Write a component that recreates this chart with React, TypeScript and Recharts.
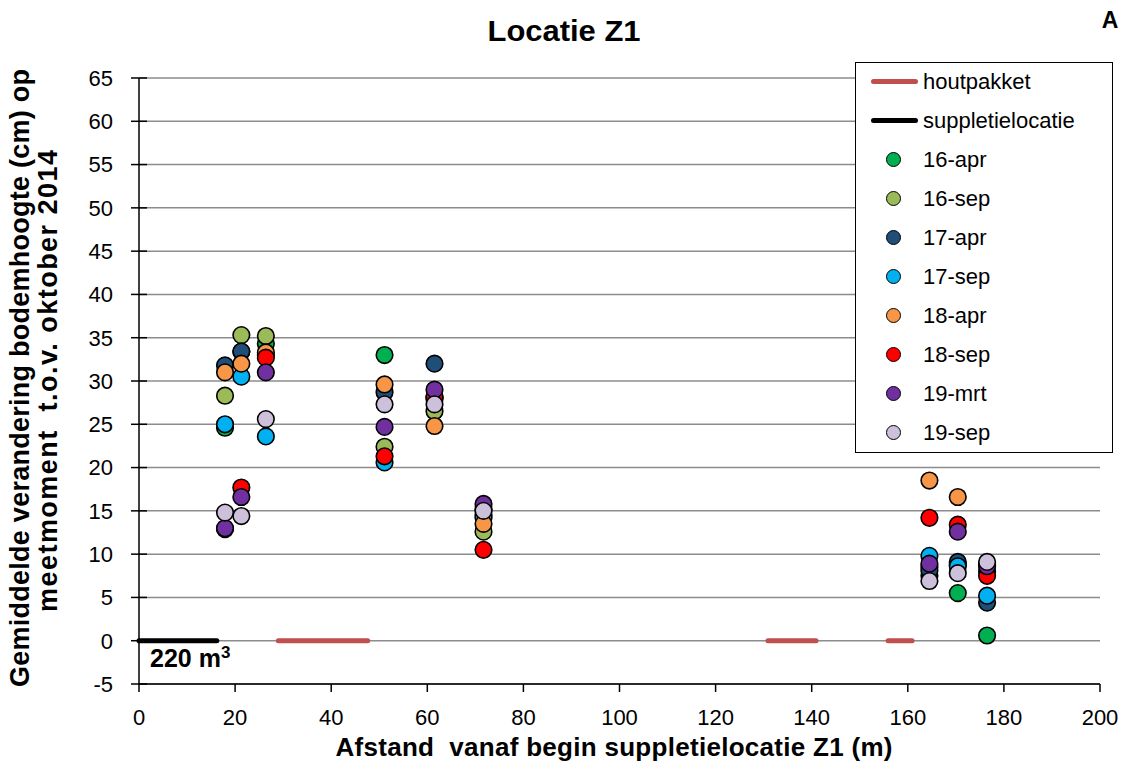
import React from 'react';
import { ScatterChart, Scatter, XAxis, YAxis, CartesianGrid, ReferenceLine, Legend } from 'recharts';

const distances = [17.9, 21.3, 26.4, 51.1, 61.5, 71.7, 164.5, 170.4, 176.5];

const seriesNames = ['16-apr', '16-sep', '17-apr', '17-sep', '18-apr', '18-sep', '19-mrt', '19-sep'];
const seriesColors = ['#00B050', '#9BBB59', '#1F4E79', '#00B0F0', '#F79646', '#FF0000', '#7030A0', '#CCC0DA'];

const v16apr = [24.6, 33.4, 34.3, 33.0, 28.1, 14.5, 8.5, 5.5, 0.6];
const v16sep = [28.3, 35.3, 35.2, 22.4, 26.5, 12.6, 7.5, 8.8, 8.8];
const v17apr = [31.8, 33.4, 33.0, 28.7, 32.0, 15.2, 8.1, 9.1, 4.4];
const v17sep = [25.0, 30.5, 23.6, 20.6, 27.9, 14.2, 9.8, 8.6, 5.2];
const v18apr = [31.0, 32.0, 33.3, 29.6, 24.8, 13.5, 18.5, 16.6, 8.0];
const v18sep = [12.9, 17.7, 32.7, 21.3, 28.2, 10.5, 14.2, 13.4, 7.5];
const v19mrt = [13.0, 16.6, 31.0, 24.7, 29.0, 15.8, 8.9, 12.6, 8.6];
const v19sep = [14.8, 14.4, 25.6, 27.3, 27.3, 15.0, 6.9, 7.8, 9.1];

const seriesValues = [v16apr, v16sep, v17apr, v17sep, v18apr, v18sep, v19mrt, v19sep];

// houtpakket segments (start, end) along y = 0
const houtpakketStart = [29.0, 130.9, 155.9];
const houtpakketEnd = [47.6, 140.9, 160.9];
// suppletielocatie segment
const suppletieStart = 0;
const suppletieEnd = 16.2;

const xTicks = [0, 20, 40, 60, 80, 100, 120, 140, 160, 180, 200];
const yTicks = [-5, 0, 5, 10, 15, 20, 25, 30, 35, 40, 45, 50, 55, 60, 65];

const FONT = '"Liberation Sans", Arial, sans-serif';
const HOUT = '#C0504D';

const YTick = (props: any) => {
  const { x, y, payload } = props;
  return (
    <g>
      <line x1={x - 8} x2={x + 8} y1={y} y2={y} stroke="#000" strokeWidth={1.5} />
      <text x={x - 26} y={y} dy="0.36em" textAnchor="end" fontSize={22} fontFamily={FONT} fill="#000">
        {payload.value}
      </text>
    </g>
  );
};

const XTick = (props: any) => {
  const { x, y, payload } = props;
  return (
    <g>
      <line x1={x} x2={x} y1={y} y2={y + 8} stroke="#000" strokeWidth={1.5} />
      <text x={x} y={y + 41} textAnchor="middle" fontSize={22} fontFamily={FONT} fill="#000">
        {payload.value}
      </text>
    </g>
  );
};

const makeDot = (color: string) => (props: any) => {
  const { cx, cy } = props;
  if (cx == null || cy == null) return null;
  return <circle cx={cx} cy={cy} r={8.3} fill={color} stroke="#000" strokeWidth={1.6} />;
};

const LegendBox = () => {
  const rows: React.ReactNode[] = [];
  const rowTop = (i: number) => 18 + 39 * i - 19.5;
  rows.push(
    <div key="h" style={{ position: 'absolute', left: 0, top: rowTop(0), height: 39, display: 'flex', alignItems: 'center' }}>
      <div style={{ position: 'absolute', left: 15, width: 47, height: 5, borderRadius: 3, background: HOUT }} />
      <span style={{ position: 'absolute', left: 67, whiteSpace: 'nowrap' }}>houtpakket</span>
    </div>
  );
  rows.push(
    <div key="s" style={{ position: 'absolute', left: 0, top: rowTop(1), height: 39, display: 'flex', alignItems: 'center' }}>
      <div style={{ position: 'absolute', left: 15, width: 47, height: 5, borderRadius: 3, background: '#000' }} />
      <span style={{ position: 'absolute', left: 67, whiteSpace: 'nowrap' }}>suppletielocatie</span>
    </div>
  );
  seriesNames.forEach((n, i) => {
    rows.push(
      <div key={n} style={{ position: 'absolute', left: 0, top: rowTop(i + 2), height: 39, display: 'flex', alignItems: 'center' }}>
        <div style={{ position: 'absolute', left: 30, width: 13, height: 13, borderRadius: '50%', background: seriesColors[i], border: '1.6px solid #000' }} />
        <span style={{ position: 'absolute', left: 67, whiteSpace: 'nowrap' }}>{n}</span>
      </div>
    );
  });
  return (
    <div
      style={{
        position: 'relative',
        width: 256,
        height: 389,
        border: '1.5px solid #000',
        background: '#fff',
        fontFamily: FONT,
        fontSize: 22,
        color: '#000',
        lineHeight: '39px',
      }}
    >
      {rows}
    </div>
  );
};

export default function App() {
  return (
    <div style={{ position: 'absolute', left: 0, top: 0, width: 1133, height: 769, background: '#fff', fontFamily: FONT }}>
      <ScatterChart width={1133} height={769} margin={{ top: 78, right: 33, bottom: 45, left: 79 }}>
        <CartesianGrid vertical={false} horizontal stroke="#8c8c8c" strokeWidth={1.5} />
        <XAxis
          type="number"
          dataKey="x"
          domain={[0, 200]}
          ticks={xTicks}
          interval={0}
          height={40}
          axisLine={{ stroke: '#000', strokeWidth: 1.5 }}
          tickLine={false}
          tickSize={0}
          tickMargin={0}
          tick={<XTick />}
        />
        <YAxis
          type="number"
          dataKey="y"
          domain={[-5, 65]}
          ticks={yTicks}
          interval={0}
          width={60}
          axisLine={{ stroke: '#000', strokeWidth: 1.5 }}
          tickLine={false}
          tickSize={0}
          tickMargin={0}
          tick={<YTick />}
        />
        {houtpakketStart.map((s, i) => (
          <ReferenceLine
            key={'h' + i}
            segment={[{ x: s, y: 0 }, { x: houtpakketEnd[i], y: 0 }]}
            stroke={HOUT}
            strokeWidth={5}
            strokeLinecap="round"
          />
        ))}
        <ReferenceLine
          segment={[{ x: suppletieStart, y: 0 }, { x: suppletieEnd, y: 0 }]}
          stroke="#000"
          strokeWidth={5}
          strokeLinecap="round"
        />
        {seriesNames.map((n, i) => (
          <Scatter
            key={n}
            name={n}
            data={distances.map((d, j) => ({ x: d, y: seriesValues[i][j] }))}
            fill={seriesColors[i]}
            shape={makeDot(seriesColors[i])}
            isAnimationActive={false}
          />
        ))}
        <Legend
          layout="vertical"
          align="center"
          verticalAlign="middle"
          wrapperStyle={{ left: 855, top: 62, width: 259, height: 392, right: 'auto', bottom: 'auto' }}
          content={() => <LegendBox />}
        />
      </ScatterChart>
      <svg
        width={1133}
        height={769}
        style={{ position: 'absolute', left: 0, top: 0, pointerEvents: 'none' }}
        fontFamily={FONT}
      >
        <text x={564} y={41} textAnchor="middle" fontSize={30} fontWeight="bold" fill="#000" textLength={153} lengthAdjust="spacingAndGlyphs">
          Locatie Z1
        </text>
        <text x={1110} y={28} textAnchor="middle" fontSize={23} fontWeight="bold" fill="#000">
          A
        </text>
        <text
          transform="translate(29,378) rotate(-90)"
          textAnchor="middle"
          fontSize={27}
          fontWeight="bold"
          fill="#000"
          textLength={618}
          lengthAdjust="spacing"
          style={{ whiteSpace: 'pre' }}
        >
          Gemiddelde verandering bodemhoogte (cm) op
        </text>
        <text
          transform="translate(57,381) rotate(-90)"
          textAnchor="middle"
          fontSize={27}
          fontWeight="bold"
          fill="#000"
          textLength={462}
          lengthAdjust="spacing"
          style={{ whiteSpace: 'pre' }}
        >
          meetmoment  t.o.v. oktober 2014
        </text>
        <text
          x={614}
          y={756}
          textAnchor="middle"
          fontSize={26}
          fontWeight="bold"
          fill="#000"
          textLength={557}
          lengthAdjust="spacing"
          style={{ whiteSpace: 'pre' }}
        >
          Afstand  vanaf begin suppletielocatie Z1 (m)
        </text>
        <text x={150} y={667} fontSize={25} fontWeight="bold" fill="#000">
          220 m<tspan dy={-9} fontSize={17}>3</tspan>
        </text>
      </svg>
    </div>
  );
}
